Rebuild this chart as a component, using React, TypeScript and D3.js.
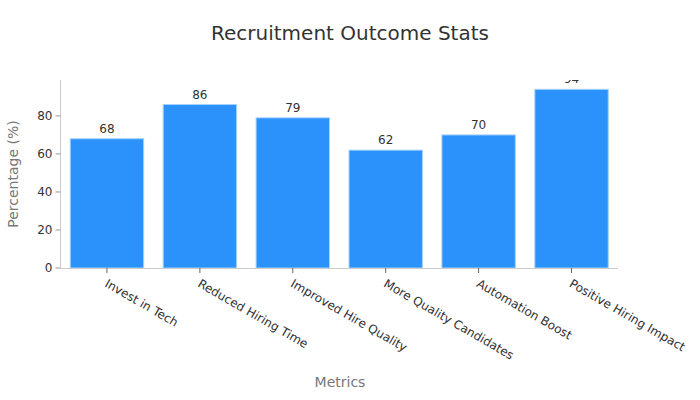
import { useEffect, useRef } from "react";
import * as d3 from "d3";

const categories = [
  "Invest in Tech",
  "Reduced Hiring Time",
  "Improved Hire Quality",
  "More Quality Candidates",
  "Automation Boost",
  "Positive Hiring Impact",
];
const values = [68, 86, 79, 62, 70, 94];
const yTicks = [0, 20, 40, 60, 80];

const width = 700;
const height = 400;
const left = 60.5;
const right = 618;
const top = 80;
const bottom = 268;
const font = "'DejaVu Sans', sans-serif";

export default function App() {
  const ref = useRef<SVGSVGElement | null>(null);

  useEffect(() => {
    if (!ref.current) return;
    const svg = d3.select(ref.current);
    svg.selectAll("*").remove();

    const x = d3
      .scaleBand<string>()
      .domain(categories)
      .range([left, right])
      .paddingInner(0.21)
      .paddingOuter(0.105);
    const y = d3.scaleLinear().domain([0, 98.9]).range([bottom, top]);

    svg.append("defs")
      .append("clipPath")
      .attr("id", "plot-clip")
      .append("rect")
      .attr("x", left)
      .attr("y", top)
      .attr("width", right - left)
      .attr("height", bottom - top);

    const plot = svg.append("g").attr("clip-path", "url(#plot-clip)");

    plot.selectAll("rect")
      .data(values)
      .join("rect")
      .attr("x", (_, i) => x(categories[i])!)
      .attr("y", (d) => y(d))
      .attr("width", x.bandwidth())
      .attr("height", (d) => bottom - y(d))
      .attr("fill", "#2b91fb")
      .attr("stroke", "#a3d2fd")
      .attr("stroke-width", 1);

    plot.selectAll("text")
      .data(values)
      .join("text")
      .attr("x", (_, i) => x(categories[i])! + x.bandwidth() / 2)
      .attr("y", (d) => y(d) - 6)
      .attr("text-anchor", "middle")
      .attr("font-family", font)
      .attr("font-size", 12)
      .attr("fill", "#333")
      .text((d) => d);

    // y axis
    const yAxis = svg.append("g").attr("font-family", font);
    yAxis.append("line")
      .attr("x1", left).attr("x2", left)
      .attr("y1", top).attr("y2", bottom)
      .attr("stroke", "#ccc");
    const yt = yAxis.selectAll("g").data(yTicks).join("g");
    yt.append("line")
      .attr("x1", left - 5).attr("x2", left)
      .attr("y1", (d) => y(d)).attr("y2", (d) => y(d))
      .attr("stroke", "#999");
    yt.append("text")
      .attr("x", left - 8)
      .attr("y", (d) => y(d))
      .attr("dy", "0.35em")
      .attr("text-anchor", "end")
      .attr("font-size", 12)
      .attr("fill", "#333")
      .text((d) => d);

    // x axis
    const xAxis = svg.append("g").attr("font-family", font);
    xAxis.append("line")
      .attr("x1", left).attr("x2", right)
      .attr("y1", bottom + 0.5).attr("y2", bottom + 0.5)
      .attr("stroke", "#ccc");
    const xt = xAxis.selectAll("g").data(categories).join("g");
    xt.append("line")
      .attr("x1", (d) => x(d)! + x.bandwidth() / 2)
      .attr("x2", (d) => x(d)! + x.bandwidth() / 2)
      .attr("y1", bottom).attr("y2", bottom + 5)
      .attr("stroke", "#666");
    xt.append("text")
      .attr("transform", (d) => `translate(${x(d)! + x.bandwidth() / 2 - 3},${bottom + 18}) rotate(30)`)
      .attr("font-size", 12)
      .attr("fill", "#333")
      .text((d) => d);

    svg.append("text")
      .attr("x", 350).attr("y", 40)
      .attr("text-anchor", "middle")
      .attr("font-family", font)
      .attr("font-size", 20)
      .attr("fill", "#333")
      .text("Recruitment Outcome Stats");

    svg.append("text")
      .attr("transform", "translate(18,174) rotate(-90)")
      .attr("text-anchor", "middle")
      .attr("font-family", font)
      .attr("font-size", 14)
      .attr("fill", "#777")
      .text("Percentage (%)");

    svg.append("text")
      .attr("x", 340).attr("y", 387)
      .attr("text-anchor", "middle")
      .attr("font-family", font)
      .attr("font-size", 14)
      .attr("fill", "#777")
      .text("Metrics");
  }, []);

  return (
    <svg
      ref={ref}
      width={width}
      height={height}
      style={{ position: "absolute", left: 0, top: 0, background: "#fff", opacity: 0.999 }}
    />
  );
}
